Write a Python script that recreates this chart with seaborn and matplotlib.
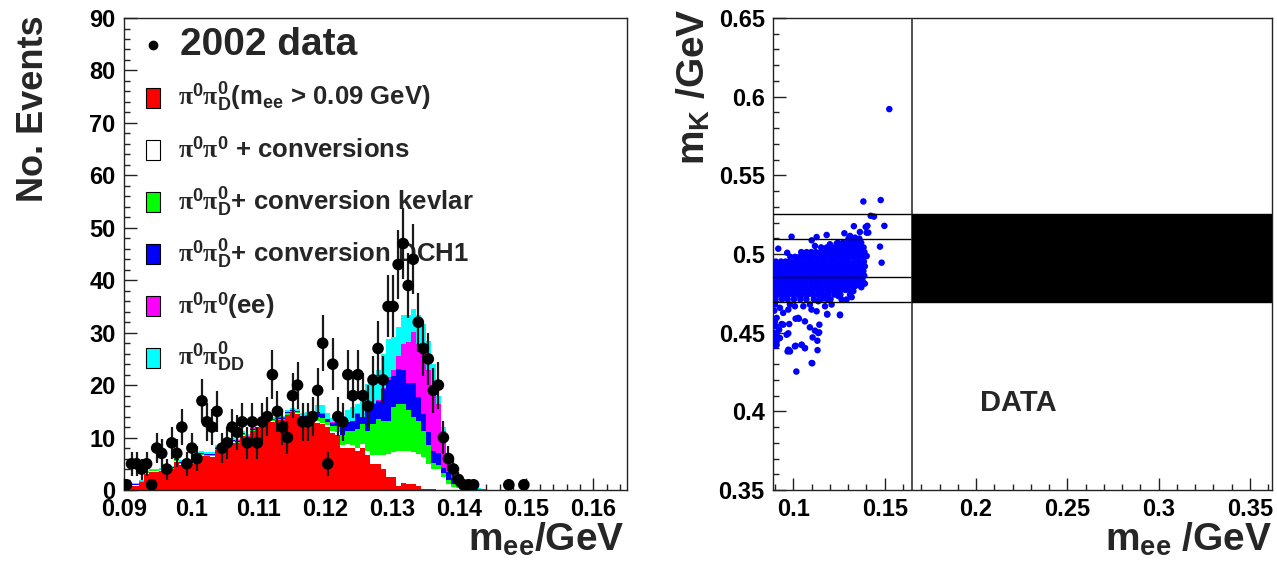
import numpy as np
import pandas as pd
import matplotlib
matplotlib.use("Agg")
import matplotlib.pyplot as plt
from matplotlib.patches import Rectangle
from matplotlib.ticker import MultipleLocator, FormatStrFormatter
import seaborn as sns

# ---------------- left panel data (bins of 0.75 MeV starting at 0.09 GeV) -------------
red = [0.8, 0.8, 0.8, 1.5, 3.1, 3.5, 3.5, 3.7, 3.8, 4.0,
       5.4, 4.8, 4.6, 4.9, 6.3, 6.5, 6.4, 6.3, 7.6, 8.0,
       8.7, 9.0, 8.9, 10.3, 9.7, 11.2, 12.1, 12.7, 12.9, 13.0,
       13.3, 13.3, 14.3, 14.8, 14.5, 13.2, 13.3, 13.0, 12.8, 12.5,
       12.1, 10.9, 10.5, 8.1, 8.1, 8.1, 7.5, 8.1, 6.6, 5.0,
       5.0, 4.0, 2.4, 2.4, 0.85, 1.3, 1.2, 1.2, 0.85, 0.2,
       0.2, 0.15, 0.1, 0.1, 0.05]
white = [0.1] * 10 + [0.1] * 25 + [0.2, 0.2, 0.2, 0.3, 0.3,
         0.3, 0.4, 0.5, 0.4, 0.6, 0.5, 0.6, 0.6, 0.9, 1.6,
         1.6, 2.6, 4.5, 4.8, 6.65, 6.2, 6.3, 6.0, 6.05, 6.1,
         4.8, 3.85, 3.9, 2.3, 1.15, 0.6, 0.3, 0.1]
green = [0.15] * 10 + [0.2] * 25 + [0.4, 0.4, 0.4, 0.9, 0.9,
         0.6, 1.0, 1.3, 1.9, 2.6, 2.7, 3.5, 3.9, 3.8, 6.0,
         7.0, 6.6, 6.3, 8.6, 8.9, 8.9, 7.7, 6.7, 6.3, 5.0,
         3.5, 1.2, 0.8, 0.9, 0.8, 0.6, 0.4, 0.3, 0.2]
blue = [0.05] * 10 + [0.2] * 25 + [0.3, 0.3, 0.3, 0.8, 0.8,
        0.5, 0.5, 0.7, 1.6, 1.6, 1.9, 2.9, 1.3, 3.9, 3.8,
        3.4, 6.1, 7.7, 6.0, 6.7, 6.4, 5.3, 6.6, 4.5, 3.2,
        2.5, 2.3, 2.2, 0.9, 1.4, 1.0, 0.6, 0.3, 0.2, 0.2]
magenta = [0.0] * 10 + [0.05] * 25 + [0.05, 0.05, 0.05, 0.1, 0.1,
           0.1, 0.1, 0.1, 0.05, 0.05, 0.05, 0.1, 0.1, 0.1, 0.1,
           0.2, 0.2, 0.6, 1.0, 2.5, 5.1, 7.7, 9.6, 10.2, 12.4,
           11.8, 11.5, 9.4, 7.1, 2.9, 1.8, 1.1, 0.6, 0.4, 0.25,
           0.25, 0.15, 0.1, 0.1, 0.05]
cyan = [0.2] * 10 + [0.35] * 25 + [0.6, 0.6, 0.6, 1.4, 1.6,
        1.0, 0.9, 1.3, 1.85, 2.25, 2.55, 1.8, 3.7, 4.9, 3.8,
        5.6, 6.5, 7.3, 6.3, 5.4, 5.4, 5.1, 4.4, 5.4, 4.8,
        5.7, 5.0, 1.6, 0.7, 0.7, 0.3, 0.2, 0.1, 0.1, 0.05,
        0.05, 0.05]
data_counts = [1, 5, 5, 4, 5, 1, 8, 7, 4, 9,
               7, 12, 5, 8, 6, 17, 13, 12, 15, 8,
               9, 12, 11, 13, 9, 13, 9, 13, 14, 22,
               15, 12, 10, 18, 20, 13, 13, 14, 19, 28,
               5, 24, 14, 13, 22, 18, 22, 18, 16, 21,
               27, 21, 35, 35, 43, 47, 39, 44, 32, 27,
               25, 19, 20, 10, 6, 4, 2, 1, 1, 1,
               0, 0, 0, 0, 0, 0, 1, 0, 0, 1]

component_labels = [
    r"$\pi^{\mathbf{0}}\pi^{\mathbf{0}}_{\mathbf{D}}$(m$_{\mathbf{ee}}$ > 0.09 GeV)",
    r"$\pi^{\mathbf{0}}\pi^{\mathbf{0}}$ + conversions",
    r"$\pi^{\mathbf{0}}\pi^{\mathbf{0}}_{\mathbf{D}}$+ conversion kevlar",
    r"$\pi^{\mathbf{0}}\pi^{\mathbf{0}}_{\mathbf{D}}$+ conversion DCH1",
    r"$\pi^{\mathbf{0}}\pi^{\mathbf{0}}$(ee)",
    r"$\pi^{\mathbf{0}}\pi^{\mathbf{0}}_{\mathbf{DD}}$",
]
component_colors = ["#ff0000", "#ffffff", "#00ff00", "#0000ff", "#ff00ff", "#00ffff"]
data_label = "2002 data"

# ---------------- right panel data ----------------
core_row_y = [0.4712, 0.4742, 0.4772, 0.4802, 0.4832, 0.4862, 0.4892,
              0.4922, 0.4952, 0.4982, 0.5012, 0.5042, 0.5072, 0.5098]
core_row_x = [
    [0.0902, 0.0938, 0.0968, 0.1003, 0.1038, 0.1071, 0.1112, 0.1148, 0.1186, 0.1203],
    [0.0896, 0.0921, 0.0947, 0.0969, 0.0996, 0.1024, 0.1049, 0.1077, 0.1106, 0.1133,
     0.1162, 0.1191, 0.1224, 0.1257],
    [0.0904, 0.0931, 0.0953, 0.0982, 0.1007, 0.1029, 0.1058, 0.1083, 0.1104, 0.1131,
     0.1152, 0.1183, 0.1208, 0.1233, 0.1259, 0.1284, 0.1307, 0.1318],
    [0.0894, 0.0918, 0.0946, 0.0972, 0.0993, 0.1021, 0.1046, 0.1068, 0.1097, 0.1122,
     0.1143, 0.1172, 0.1193, 0.1221, 0.1247, 0.1268, 0.1296, 0.1322, 0.1343, 0.1358],
    [0.0907, 0.0929, 0.0956, 0.0981, 0.1004, 0.1032, 0.1053, 0.1081, 0.1107, 0.1128,
     0.1157, 0.1178, 0.1206, 0.1229, 0.1257, 0.1279, 0.1306, 0.1328, 0.1357, 0.1378],
    [0.0895, 0.0922, 0.0944, 0.0971, 0.0997, 0.1018, 0.1047, 0.1069, 0.1096, 0.1121,
     0.1146, 0.1168, 0.1197, 0.1219, 0.1246, 0.1272, 0.1293, 0.1321, 0.1347, 0.1368, 0.1388],
    [0.0906, 0.0931, 0.0954, 0.0982, 0.1006, 0.1028, 0.1057, 0.1079, 0.1104, 0.1132,
     0.1154, 0.1181, 0.1204, 0.1232, 0.1254, 0.1281, 0.1304, 0.1331, 0.1354, 0.1383],
    [0.0894, 0.0919, 0.0946, 0.0968, 0.0996, 0.1021, 0.1043, 0.1071, 0.1094, 0.1118,
     0.1146, 0.1171, 0.1194, 0.1222, 0.1244, 0.1269, 0.1297, 0.1319, 0.1346, 0.1371, 0.1391],
    [0.0904, 0.0932, 0.0957, 0.0979, 0.1007, 0.1029, 0.1056, 0.1082, 0.1103, 0.1131,
     0.1157, 0.1179, 0.1207, 0.1228, 0.1256, 0.1282, 0.1303, 0.1332, 0.1356, 0.1386],
    [0.0983, 0.1009, 0.1033, 0.1058, 0.1084, 0.1109, 0.1134, 0.1158, 0.1183, 0.1209,
     0.1233, 0.1259, 0.1284, 0.1308, 0.1333, 0.1358, 0.1381],
    [0.1043, 0.1072, 0.1098, 0.1122, 0.1149, 0.1172, 0.1197, 0.1223, 0.1248, 0.1271,
     0.1298, 0.1322, 0.1347, 0.1372, 0.1389],
    [0.1152, 0.1183, 0.1211, 0.1236, 0.1262, 0.1287, 0.1311, 0.1337, 0.1362, 0.1384],
    [0.1243, 0.1271, 0.1296, 0.1323, 0.1348, 0.1371],
    [0.1302, 0.1333, 0.1361],
]
sparse_x = [0.0899, 0.0926, 0.0908, 0.0944, 0.0981, 0.0972, 0.1008, 0.1026, 0.1054, 0.1063,
            0.1090, 0.1099, 0.1127, 0.1136, 0.1173, 0.1185, 0.1209, 0.1255, 0.1291, 0.1264,
            0.1319, 0.0904, 0.0922, 0.0944, 0.0963, 0.0926, 0.0908, 0.0972, 0.0981, 0.1008,
            0.1045, 0.1063, 0.1090, 0.1105, 0.1118, 0.1142, 0.1136, 0.1132, 0.1100, 0.1016,
            0.1255, 0.1185, 0.1141, 0.1131, 0.1012, 0.1030, 0.0977, 0.0935, 0.0972, 0.0908,
            0.0908, 0.0904, 0.0977, 0.0968, 0.1012, 0.1045, 0.1063, 0.1103,
            0.0893, 0.0895, 0.0898, 0.0892, 0.0897, 0.0894,
            0.1383, 0.1478, 0.1423, 0.1441, 0.1498, 0.1331, 0.1396, 0.1483, 0.1474, 0.1410,
            0.1364, 0.1279, 0.1182, 0.1127, 0.0990, 0.0917, 0.0966, 0.1100, 0.1118, 0.1200,
            0.1237, 0.1310, 0.1337, 0.1355, 0.1401, 0.1405, 0.1401, 0.1355, 0.1337, 0.1328,
            0.1310, 0.1525, 0.1246, 0.1228, 0.1167, 0.1372, 0.1391]
sparse_y = [0.4679, 0.4658, 0.4594, 0.4626, 0.4679, 0.4647, 0.4668, 0.4594, 0.4668, 0.4572,
            0.4679, 0.4647, 0.4636, 0.4700, 0.4668, 0.4619, 0.4679, 0.4615, 0.4711, 0.4711,
            0.4726, 0.4541, 0.4519, 0.4551, 0.4487, 0.4466, 0.4423, 0.4392, 0.4381, 0.4413,
            0.4423, 0.4402, 0.4534, 0.4470, 0.4513, 0.4551, 0.4498, 0.4389, 0.4307, 0.4253,
            0.4611, 0.4615, 0.4502, 0.4449, 0.4589, 0.4589, 0.4555, 0.4555, 0.4496, 0.4493,
            0.4445, 0.4417, 0.4387, 0.4381, 0.4417, 0.4423, 0.4402, 0.4306,
            0.4705, 0.4640, 0.4570, 0.4500, 0.4460, 0.4430,
            0.5334, 0.5343, 0.5243, 0.5238, 0.5179, 0.5177, 0.5172, 0.4945, 0.5047, 0.5136,
            0.5140, 0.5132, 0.5121, 0.5108, 0.5110, 0.5034, 0.5008, 0.5087, 0.5051, 0.5062,
            0.5066, 0.5115, 0.5104, 0.5089, 0.5136, 0.5179, 0.4987, 0.4828, 0.4796, 0.4764,
            0.4743, 0.5921, 0.4733, 0.4751, 0.4718, 0.4789, 0.4812]
band_lines = [0.4697, 0.4857, 0.5097, 0.5257]
mee_cut = 0.165
scatter_label = "DATA"

# ---------------- style ----------------
sns.set_theme(style="ticks")
plt.rcParams["font.family"] = ["Liberation Sans", "DejaVu Sans"]
plt.rcParams["font.weight"] = "bold"
plt.rcParams["mathtext.fontset"] = "custom"
plt.rcParams["mathtext.rm"] = "Liberation Serif"
plt.rcParams["mathtext.bf"] = "Liberation Sans:bold"
plt.rcParams["mathtext.default"] = "rm"
plt.rcParams["axes.linewidth"] = 1.0
plt.rcParams["axes.edgecolor"] = "#222222"

fig = plt.figure(figsize=(12.77, 5.65), dpi=100)
ax1 = fig.add_axes([0.0971, 0.1327, 0.3939, 0.8354])
ax2 = fig.add_axes([0.6053, 0.1327, 0.3907, 0.8354])

# ---------------- left: stacked histogram ----------------
nbins = 100
edges = np.linspace(0.09, 0.165, nbins + 1)
centers = 0.5 * (edges[:-1] + edges[1:])

def pad(v):
    out = np.zeros(nbins)
    out[:len(v)] = v
    return out

comps = [red, white, green, blue, magenta, cyan]
rows = []
for lab, vals in zip(component_labels, comps):
    for c, w in zip(centers, pad(vals)):
        rows.append((float(c), float(w), lab))
df = pd.DataFrame(rows, columns=["mee", "count", "component"])
palette = dict(zip(component_labels, component_colors))
sns.histplot(data=df, x="mee", weights="count", hue="component",
             hue_order=component_labels[::-1], multiple="stack",
             bins=nbins, binrange=(0.09, 0.165),
             palette=palette, element="step", fill=True, alpha=1, linewidth=0,
             legend=False, ax=ax1)

dc = pad(data_counts)
mask = dc > 0
ax1.errorbar(centers[mask], dc[mask], yerr=np.sqrt(dc[mask]), fmt="none",
             ecolor="#1a1a1a", elinewidth=1.6, capsize=0, zorder=4)
sns.scatterplot(x=centers[mask], y=dc[mask], color="black", s=70,
                edgecolor="none", ax=ax1, zorder=5)

ax1.set_xlim(0.09, 0.165)
ax1.set_ylim(0, 90)
ax1.xaxis.set_major_locator(MultipleLocator(0.01))
ax1.xaxis.set_minor_locator(MultipleLocator(0.002))
ax1.xaxis.set_major_formatter(FormatStrFormatter("%g"))
ax1.yaxis.set_major_locator(MultipleLocator(10))
ax1.yaxis.set_minor_locator(MultipleLocator(2))

# legend drawn inside the frame
ax1.plot([0.058], [0.943], "o", color="black", ms=6, transform=ax1.transAxes)
ax1.text(0.111, 0.943, data_label, transform=ax1.transAxes, fontsize=28,
         fontweight="bold", va="center", ha="left")
leg_y = [0.831, 0.720, 0.610, 0.500, 0.390, 0.280]
for lab, col, yy in zip(component_labels, component_colors, leg_y):
    ax1.add_patch(Rectangle((0.044, yy - 0.021), 0.028, 0.042, transform=ax1.transAxes,
                            facecolor=col, edgecolor="black", lw=0.8, zorder=6))
    ax1.text(0.107, yy, lab, transform=ax1.transAxes, fontsize=18.5,
             fontweight="bold", va="center", ha="left")

ax1.set_xlabel(r"m$_{\mathbf{ee}}$/GeV", fontsize=28, fontweight="bold", loc="right")
ax1.set_ylabel("No. Events", fontsize=26, fontweight="bold", loc="top")
ax1.xaxis.set_label_coords(0.994, -0.065)
ax1.yaxis.set_label_coords(-0.145, 1.006)

# ---------------- right: scatter ----------------
core_x = [x for row in core_row_x for x in row]
core_y = [y for y, row in zip(core_row_y, core_row_x) for _ in row]
all_x = core_x + sparse_x
all_y = core_y + sparse_y
sns.scatterplot(x=all_x, y=all_y, color="#0000ff", s=22, edgecolor="none",
                ax=ax2, zorder=3)
ax2.set_xlim(0.0888, 0.362)
ax2.set_ylim(0.35, 0.65)
ax2.hlines(band_lines, 0.0888, mee_cut, color="black", lw=1.0, zorder=4)
ax2.axvline(mee_cut, color="#333333", lw=1.2, zorder=4)
ax2.add_patch(Rectangle((mee_cut, band_lines[0]), 0.362 - mee_cut,
                        band_lines[-1] - band_lines[0], facecolor="black",
                        edgecolor="black", zorder=4))
ax2.text(0.223, 0.405, scatter_label, fontsize=21, fontweight="bold",
         ha="center", va="center")
ax2.xaxis.set_major_locator(MultipleLocator(0.05))
ax2.xaxis.set_minor_locator(MultipleLocator(0.01))
ax2.xaxis.set_major_formatter(FormatStrFormatter("%g"))
ax2.yaxis.set_major_locator(MultipleLocator(0.05))
ax2.yaxis.set_minor_locator(MultipleLocator(0.01))
ax2.yaxis.set_major_formatter(FormatStrFormatter("%g"))
ax2.set_xlabel(r"m$_{\mathbf{ee}}$ /GeV", fontsize=28, fontweight="bold", loc="right")
ax2.set_ylabel(r"m$_{\mathbf{K}}$ /GeV", fontsize=28, fontweight="bold", loc="top")
ax2.xaxis.set_label_coords(1.0, -0.065)
ax2.yaxis.set_label_coords(-0.122, 1.02)

for ax in (ax1, ax2):
    ax.tick_params(which="both", direction="in", top=False, right=False,
                   colors="#222222", labelcolor="black")
    ax.tick_params(which="major", length=9, width=1.0, labelsize=17, pad=6)
    ax.tick_params(which="minor", length=4.5, width=1.0)
    for lbl in ax.get_xticklabels() + ax.get_yticklabels():
        lbl.set_fontweight("bold")
    for s in ax.spines.values():
        s.set_visible(True)

fig.savefig("out.png", dpi=100, facecolor="white")
